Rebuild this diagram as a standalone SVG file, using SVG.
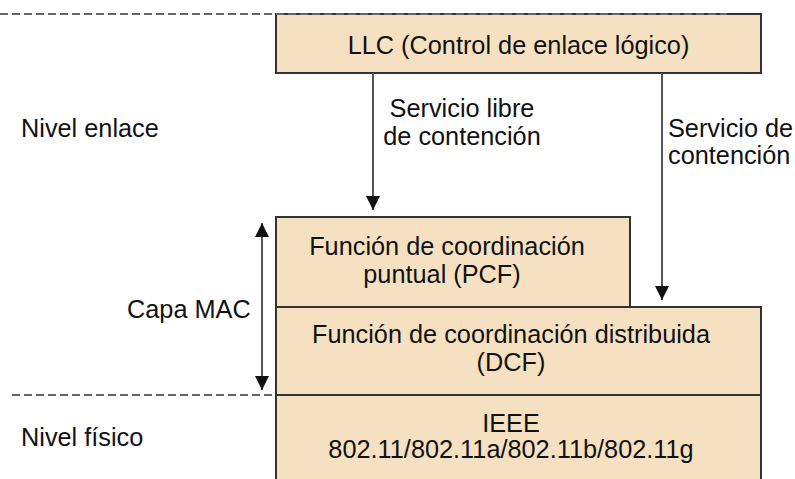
<svg xmlns="http://www.w3.org/2000/svg" width="795" height="479" viewBox="0 0 795 479">
<style>
.box{fill:#F5E1C2;stroke:#333;stroke-width:2}
.t{font-family:"Liberation Sans",Arial,sans-serif;font-size:25.3px;fill:#111}
.c{text-anchor:middle}
.dash{stroke:#666;stroke-width:2;stroke-dasharray:8 4;fill:none}
.arr{stroke:#555;stroke-width:2;fill:none}
</style>
<defs>
<marker id="ah" markerUnits="userSpaceOnUse" markerWidth="16" markerHeight="14" viewBox="0 0 16 14" refX="15" refY="7" orient="auto-start-reverse">
<path d="M1,0 L15,7 L1,14 Z" fill="#111"/>
</marker>
</defs>
<g id="ieee">
<rect class="box" x="276" y="395" width="485" height="100"/>
<text class="t c" x="511" y="432">IEEE</text>
<text class="t c" x="511" y="458">802.11/802.11a/802.11b/802.11g</text>
</g>
<g id="dcf">
<rect class="box" x="276" y="307" width="485" height="88"/>
<text class="t c" x="511" y="343">Función de coordinación distribuida</text>
<text class="t c" x="511" y="371">(DCF)</text>
</g>
<g id="pcf">
<rect class="box" x="276" y="217" width="354" height="90"/>
<text class="t c" x="447" y="255">Función de coordinación</text>
<text class="t c" x="442" y="283">puntual (PCF)</text>
</g>
<g id="llc">
<rect class="box" x="276" y="14" width="485" height="59"/>
<text class="t c" x="518.5" y="54">LLC (Control de enlace lógico)</text>
</g>
<g id="guides">
<line class="dash" x1="0" y1="14" x2="727" y2="14"/>
<line class="dash" x1="12" y1="395" x2="276" y2="395"/>
</g>
<g id="connectors">
<line class="arr" x1="373" y1="73" x2="373" y2="210" marker-end="url(#ah)"/>
<line class="arr" x1="662" y1="73" x2="662" y2="300" marker-end="url(#ah)"/>
<line class="arr" x1="262" y1="223" x2="262" y2="390" marker-start="url(#ah)" marker-end="url(#ah)"/>
</g>
<g id="labels">
<text class="t c" x="462" y="117">Servicio libre</text>
<text class="t c" x="462" y="145">de contención</text>
<text class="t" x="668" y="137">Servicio de</text>
<text class="t" x="668" y="164">contención</text>
<text class="t" x="21" y="137">Nivel enlace</text>
<text class="t" x="127" y="318">Capa MAC</text>
<text class="t" x="21" y="446">Nivel físico</text>
</g>
</svg>
